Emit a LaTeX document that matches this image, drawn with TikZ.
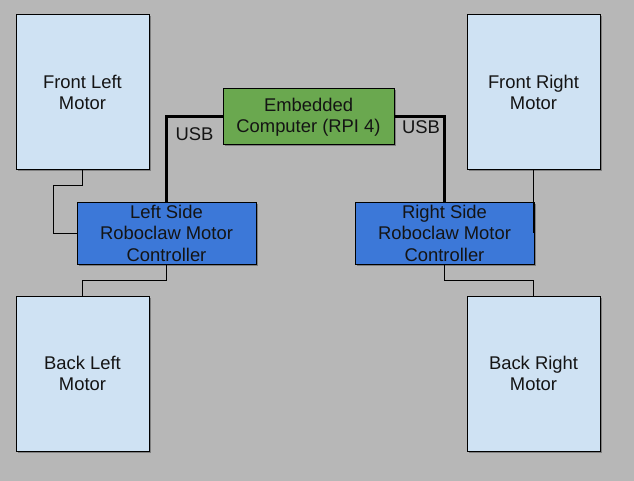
\documentclass[tikz,border=0pt]{standalone}
\usepackage{fontspec}
\setmainfont{Liberation Sans}
\usetikzlibrary{shadows}
\definecolor{bggray}{HTML}{B7B7B7}
\definecolor{motorblue}{HTML}{CFE2F3}
\definecolor{rpigreen}{HTML}{6AA84F}
\definecolor{clawblue}{HTML}{3C78D8}
\definecolor{inkgray}{HTML}{141414}
\begin{document}
\begin{tikzpicture}[
			x=1pt, y=-1pt,
			box/.style={draw=black, line width=1pt, inner sep=0pt, align=center,
				text=inkgray, font=\fontsize{18.4}{21.5}\selectfont,
				drop shadow={shadow xshift=1.5pt, shadow yshift=-1.5pt, opacity=.3, fill=black}},
			motor/.style={box, fill=motorblue, minimum width=133pt, minimum height=155pt},
			rpi/.style={box, fill=rpigreen, minimum width=171pt, minimum height=56pt},
			claw/.style={box, fill=clawblue, minimum width=179pt, minimum height=62pt},
			usb/.style={line width=3pt, line join=miter},
			wire/.style={line width=1pt},
			usblabel/.style={inner sep=0pt, text=inkgray, font=\fontsize{18.4}{21.5}\selectfont}
		]
		\fill[bggray] (0,0) rectangle (634,481);
		\useasboundingbox (0,0) rectangle (634,481);
		\coordinate (jl) at (53,186);
		\node[motor] (fl) at (82.5,92.5) {Front Left\\Motor};
		\node[motor] (bl) at (82.5,373.5) {Back Left\\Motor};
		\node[motor] (fr) at (533.5,92.5) {Front Right\\Motor};
		\node[motor] (br) at (533.5,373.5) {Back Right\\Motor};
		\node[rpi] (pi) at (308.5,117) {Embedded\\Computer (RPI 4)};
		\node[claw] (lc) at (166.5,233) {Left Side\\Roboclaw Motor\\Controller};
		\node[claw] (rc) at (444.5,233) {Right Side\\Roboclaw Motor\\Controller};
		\draw[usb] (pi.west) -| (lc.north);
		\draw[usb] (pi.east) -| (rc.north);
		\draw[wire] (fl.south) |- (jl) |- (lc.west);
		\draw[wire] (lc.south) -- ++(0,16) -| (bl.north);
		\draw[wire] (fr.south) -- (fr.south |- rc.east);
		\draw[wire] (rc.south) -- ++(0,16) -| (br.north);
		\node[usblabel] (usbl) at (194.5,134) {USB};
		\node[usblabel] (usbr) at (421,127) {USB};
	\end{tikzpicture}
\end{document}
